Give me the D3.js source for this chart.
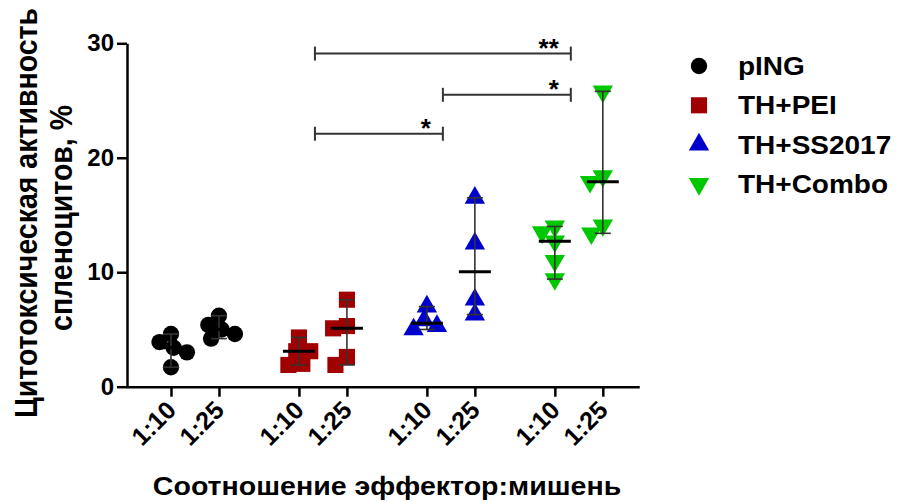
<!DOCTYPE html>
<html><head><meta charset="utf-8">
<script src="https://cdn.jsdelivr.net/npm/d3@7"></script>
<style>body{margin:0;background:#fff} svg{display:block}</style>
</head><body>
<svg id="c" width="897" height="502"></svg>
<script>
// ---- data ----
const groups = ["pING", "TH+PEI", "TH+SS2017", "TH+Combo"];
const ratios = ["1:10", "1:25"];
const colors = ["#000000", "#a00000", "#0000cc", "#00c800"];
const pING     = [[4.6, 3.9, 3.4, 3.0, 1.7], [6.2, 5.4, 5.0, 4.6, 4.2]];
const thPEI    = [[4.3, 3.1, 3.1, 2.0, 1.9], [7.6, 5.3, 5.1, 2.6, 1.9]];
const thSS2017 = [[7.0, 5.8, 5.3, 5.0], [16.5, 12.5, 7.6, 6.3]];
const thCombo  = [[14.0, 13.5, 12.7, 11.0, 9.4], [25.8, 18.4, 17.9, 14.1, 13.4]];
const yTicks = [0, 10, 20, 30];
const comparisons = [
  {a: "TH+PEI", b: "TH+SS2017", label: "*", level: 22.1},
  {a: "TH+SS2017", b: "TH+Combo", label: "*", level: 25.5},
  {a: "TH+PEI", b: "TH+Combo", label: "**", level: 29.1}
];
const yTitle = ["Цитотоксическая активность", "спленоцитов, %"];
const xTitle = "Соотношение эффектор:мишень";

// ---- layout ----
const series = [pING, thPEI, thSS2017, thCombo];
const FONT = "'Liberation Sans', Arial, Helvetica, sans-serif";
const svg = d3.select("#c");
const slot = (g, r) => g * 8 + r * 3;
const x = d3.scaleLinear().domain([-2.75, 29.2]).range([127, 638]);
const y = d3.scaleLinear().domain([0, 30]).range([386.7, 43.3]);

const shapes = [d3.symbolCircle, d3.symbolSquare, d3.symbolTriangle, d3.symbolTriangle];
const rots = [0, 0, 0, 180];
const sizes = [210, 260, 180, 180];
const sym = g => d3.symbol().type(shapes[g]).size(sizes[g])();

function swarm(vals, D) {
  const placed = [];
  vals.forEach(v => {
    const py = y(v);
    const cands = [0];
    placed.forEach(p => {
      const dy = Math.abs(p.y - py);
      if (dy < D) { const dx = Math.sqrt(D * D - dy * dy); cands.push(p.x + dx, p.x - dx); }
    });
    cands.sort((a, b) => Math.abs(a) - Math.abs(b) || a - b);
    const ok = cands.find(c => placed.every(p => Math.hypot(p.x - c, p.y - py) >= D - 1e-6));
    placed.push({x: ok, y: py});
  });
  return placed;
}

// axes
const yAxis = svg.append("g").attr("transform", `translate(${x.range()[0]},0)`)
  .call(d3.axisLeft(y).tickValues(yTicks).tickSize(10).tickPadding(3).tickSizeOuter(0));
const tickSlots = [], tickLabels = [];
groups.forEach((g, gi) => ratios.forEach((r, ri) => { tickSlots.push(slot(gi, ri)); tickLabels.push(r); }));
const xAxis = svg.append("g").attr("transform", `translate(0,${y(0)})`)
  .call(d3.axisBottom(x).tickValues(tickSlots).tickFormat((d, i) => tickLabels[i]).tickSize(10).tickSizeOuter(0));
[yAxis, xAxis].forEach(a => {
  a.selectAll("path, line").attr("stroke", "#000").attr("stroke-width", 2.5);
  a.selectAll("text").attr("font-family", FONT).attr("font-weight", "bold").attr("font-size", 24).attr("fill", "#000");
});
xAxis.select(".domain").attr("stroke-linecap", "square");
xAxis.selectAll(".tick text").attr("x", null).attr("y", null).attr("dy", null)
  .attr("text-anchor", "end").attr("font-size", 25)
  .attr("transform", "translate(6,25) rotate(-45)");

// points and median/range bars
series.forEach((ser, g) => {
  ser.forEach((vals, r) => {
    const cx = x(slot(g, r));
    const pts = swarm(vals, 14);
    svg.append("g").selectAll("path").data(pts).join("path")
      .attr("d", sym(g))
      .attr("transform", p => `translate(${cx + p.x},${p.y}) rotate(${rots[g]})`)
      .attr("fill", colors[g]);
  });
});
series.forEach((ser, g) => {
  ser.forEach((vals, r) => {
    const cx = x(slot(g, r));
    const med = d3.median(vals), [lo, hi] = d3.extent(vals);
    const eb = svg.append("g").attr("stroke", "#333").attr("stroke-width", 1.6);
    eb.append("line").attr("x1", cx).attr("x2", cx).attr("y1", y(lo)).attr("y2", y(hi));
    [lo, hi].forEach(v => eb.append("line").attr("x1", cx - 8).attr("x2", cx + 8).attr("y1", y(v)).attr("y2", y(v)));
    svg.append("line").attr("x1", cx - 16).attr("x2", cx + 16).attr("y1", y(med)).attr("y2", y(med))
      .attr("stroke", "#000").attr("stroke-width", 3);
  });
});

// significance brackets
comparisons.forEach(c => {
  const x1 = x(slot(groups.indexOf(c.a), 0) + 1), x2 = x(slot(groups.indexOf(c.b), 0) + 1), yy = y(c.level);
  const gg = svg.append("g").attr("stroke", "#333").attr("stroke-width", 2);
  gg.append("line").attr("x1", x1).attr("x2", x2).attr("y1", yy).attr("y2", yy);
  [x1, x2].forEach(xx => gg.append("line").attr("x1", xx).attr("x2", xx).attr("y1", yy - 7).attr("y2", yy + 7));
  svg.append("text").attr("x", x2 - 12).attr("y", yy + 3).attr("text-anchor", "end")
    .attr("font-family", FONT).attr("font-weight", "bold").attr("font-size", 26).text(c.label);
});

// legend
groups.forEach((name, i) => {
  const ly = 66 + i * 39.3;
  svg.append("path").attr("d", sym(i)).attr("transform", `translate(699,${ly}) rotate(${rots[i]})`).attr("fill", colors[i]);
  svg.append("text").attr("transform", `translate(738,${ly + 9}) scale(1.12,1)`)
    .attr("font-family", FONT).attr("font-weight", "bold").attr("font-size", 25).text(name);
});

// titles
svg.append("text").attr("transform", "translate(37,213) scale(1.12,1) rotate(-90)").attr("text-anchor", "middle")
  .attr("font-family", FONT).attr("font-weight", "bold").attr("font-size", 28.5).text(yTitle[0]);
svg.append("text").attr("transform", "translate(72,218) scale(1.12,1) rotate(-90)").attr("text-anchor", "middle")
  .attr("font-family", FONT).attr("font-weight", "bold").attr("font-size", 28.5).text(yTitle[1]);
svg.append("text").attr("transform", "translate(387,495) scale(1.12,1)").attr("text-anchor", "middle")
  .attr("font-family", FONT).attr("font-weight", "bold").attr("font-size", 25.5).text(xTitle);
</script>
</body></html>
